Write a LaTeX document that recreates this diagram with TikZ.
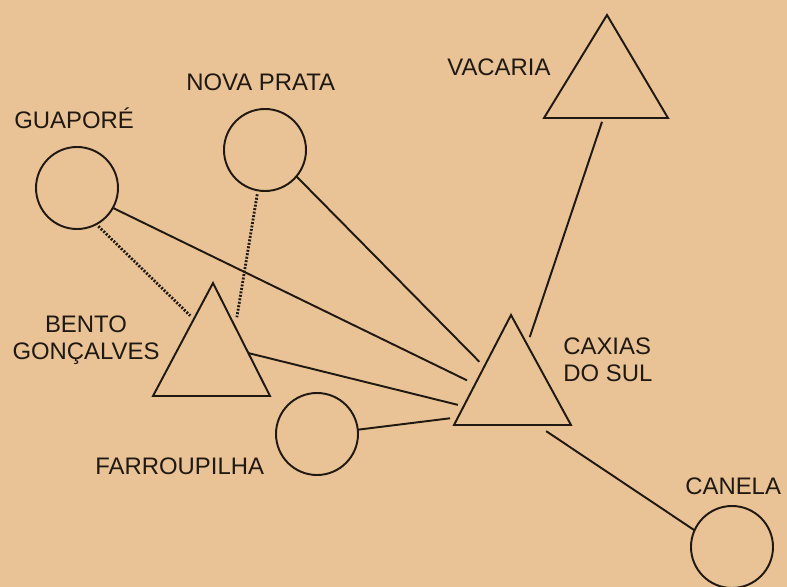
\documentclass[tikz,border=0pt]{standalone}
\usepackage{fontspec}
\setmainfont{Liberation Sans}
\usetikzlibrary{calc}
\definecolor{paper}{RGB}{233,195,149}
\definecolor{ink}{RGB}{32,25,18}

\begin{document}
\begin{tikzpicture}[x=0.2mm,y=-0.2mm,
  town/.style = {draw=ink, circle, line width=1.1pt, minimum size=16.4mm, inner sep=0pt, outer sep=0pt},
  tri/.style = {draw=ink, line width=1.1pt, line join=miter},
  road/.style = {draw=ink, line width=1.1pt},
  trail/.style = {draw=ink, line width=1.6pt, dash pattern=on 1.1pt off 0.9pt},
  lbl/.style = {text=ink, inner sep=0pt, font=\fontsize{13.6}{15.4}\selectfont}]
\fill[paper] (0,0) rectangle (787,587);
\useasboundingbox (0,0) rectangle (787,587);

% circles
\node[town] (guapore) at (77,188) {};
\node[town] (novaprata) at (265,150) {};
\node[town] (farroupilha) at (317,434) {};
\node[town] (canela) at (732,547) {};

% triangles
\coordinate (vac-t) at (607,15);
\coordinate (vac-l) at (544,118);
\coordinate (vac-r) at (668,118);
\coordinate (cax-t) at (511,315);
\coordinate (cax-l) at (454,425);
\coordinate (cax-r) at (571,425);
\coordinate (ben-t) at (213,283);
\coordinate (ben-l) at (153,396);
\coordinate (ben-r) at (270,396);
\draw[tri] (vac-t) -- (vac-l) -- (vac-r) -- cycle;
\draw[tri] (cax-t) -- (cax-l) -- (cax-r) -- cycle;
\draw[tri] (ben-t) -- (ben-l) -- (ben-r) -- cycle;

% labels
\node[lbl, anchor=base west] (vacaria) at (447,76) {VACARIA};
\node[lbl, anchor=base west] (novaprata-name) at (186,91) {NOVA PRATA};
\node[lbl, anchor=base west] (guapore-name) at (14,129) {GUAPORÉ};
\node[lbl, anchor=north, align=center] (bento) at (86,315) {BENTO\\GONÇALVES};
\node[lbl, anchor=north west, align=left] (caxias) at (563,337) {CAXIAS\\DO SUL};
\node[lbl, anchor=base west] (farroupilha-name) at (95,475) {FARROUPILHA};
\node[lbl, anchor=base west] (canela-name) at (685,495) {CANELA};

% roads
\draw[road, shorten >=1.8mm] (guapore.-29) -- ($(cax-l)!0.37!(cax-t)$);
\draw[road, shorten >=1.4mm] (novaprata.-40) -- ($(cax-l)!0.53!(cax-t)$);
\draw[road, shorten >=1.2mm] ($(ben-r)!0.38!(ben-t)$) -- ($(cax-l)!0.17!(cax-t)$);
\draw[road, shorten >=1.6mm] (farroupilha.6) -- ($(cax-l)!0.07!(cax-t)$);
\draw[road, shorten <=0.8mm, shorten >=1.6mm] ($(vac-l)!0.478!(vac-r)$) -- ($(cax-r)!0.73!(cax-t)$);
\draw[road, shorten <=2.2mm] ($(cax-l)!0.709!(cax-r)$) -- (canela.156);
\draw[trail, shorten <=0.6mm, shorten >=1mm] (guapore.-62) -- ($(ben-l)!0.68!(ben-t)$);
\draw[trail, shorten <=0.8mm, shorten >=2mm] (novaprata.-100) -- ($(ben-r)!0.61!(ben-t)$);
\end{tikzpicture}
\end{document}
